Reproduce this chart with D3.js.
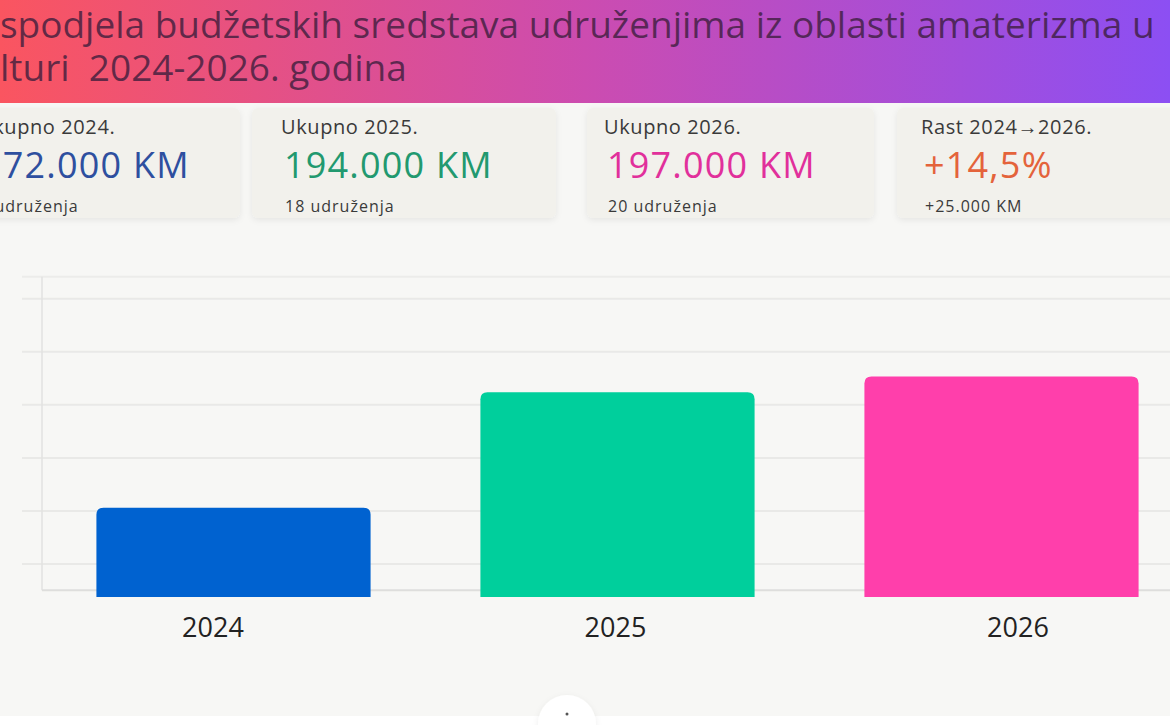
<!DOCTYPE html>
<html>
<head>
<meta charset="utf-8">
<script src="https://cdn.jsdelivr.net/npm/d3@7"></script>
<style>
  body { margin: 0; background: #f7f7f5; overflow: hidden; }
  svg { display: block; }
  text { font-family: "Open Sans", "Noto Sans", sans-serif; }
</style>
</head>
<body>
<div id="chart"></div>
<script>
// data
var years = ["2024", "2025", "2026"];
var totals = [172000, 194000, 197000];
var associations = [16, 18, 20];
var gridValues = [161300, 171400, 181500, 191600, 201700, 211800];
var titleLines = ["Raspodjela budžetskih sredstava udruženjima iz oblasti amaterizma u",
                  "kulturi  2024-2026. godina"];

var barColors = ["#0062d0", "#00cf9c", "#ff3fab"];
var valueColors = ["#2e4f9f", "#22996f", "#e1309b", "#e4633b"];

var W = 1170, H = 725;
var svg = d3.select("#chart").append("svg").attr("width", W).attr("height", H);
var defs = svg.append("defs");

// header gradient
var grad = defs.append("linearGradient").attr("id", "hdr").attr("x1", "0%").attr("x2", "100%");
grad.append("stop").attr("offset", "0%").attr("stop-color", "#fa5560");
grad.append("stop").attr("offset", "50%").attr("stop-color", "#cc4cb0");
grad.append("stop").attr("offset", "100%").attr("stop-color", "#8c4ff3");

var sh = defs.append("filter").attr("id", "soft").attr("x", "-20%").attr("y", "-20%").attr("width", "140%").attr("height", "160%");
sh.append("feDropShadow").attr("dx", 0).attr("dy", 2).attr("stdDeviation", 3)
  .attr("flood-color", "#000").attr("flood-opacity", 0.07);

svg.append("rect").attr("width", W).attr("height", H).attr("fill", "#f7f7f5");
svg.append("rect").attr("width", W).attr("height", 103).attr("fill", "url(#hdr)");

// title, clipped on the left like the picture
var title = svg.append("g");
var t1 = title.append("text").attr("y", 38).style("font-size", "30px").style("font-weight", 500)
  .attr("fill", "#3b1d3c").attr("fill-opacity", 0.78).text(titleLines[0]);
var full = t1.node().getComputedTextLength();
var pre = t1.node().getSubStringLength(0, 2);
var fs = 30 * 1155 / (full - pre);
t1.style("font-size", fs + "px");
t1.attr("x", -t1.node().getSubStringLength(0, 2));
var t2 = title.append("text").attr("y", 81).style("font-size", fs + "px").style("font-weight", 500)
  .style("white-space", "pre")
  .attr("fill", "#3b1d3c").attr("fill-opacity", 0.78).text(titleLines[1]);
t2.attr("x", -t2.node().getSubStringLength(0, 2));

// summary cards
var fmt = d3.formatLocale({decimal: ",", thousands: ".", grouping: [3], currency: ["", " KM"]});
var km = fmt.format(",.0f");
var growth = (totals[2] - totals[0]) / totals[0];
var cardLabels = years.map(function(y) { return "Ukupno " + y + "."; }).concat(["Rast " + years[0] + "→" + years[2] + "."]);
var cardValues = totals.map(function(v) { return km(v) + " KM"; }).concat(["+" + fmt.format(".1f")(growth * 100) + "%"]);
var cardSubs = associations.map(function(a) { return a + " udruženja"; }).concat(["+" + km(totals[2] - totals[0]) + " KM"]);

var cardBox = [[-30, 240], [252, 556], [587, 874], [897, 1190]];
var cardText = [-22, 281, 604, 921];
var subX = [-31, 285, 608, 925];
var cards = svg.selectAll("g.card").data(cardLabels).enter().append("g").attr("class", "card");
cards.append("rect")
  .attr("x", function(d, i) { return cardBox[i][0]; })
  .attr("width", function(d, i) { return cardBox[i][1] - cardBox[i][0]; })
  .attr("y", 108).attr("height", 110).attr("rx", 6)
  .attr("fill", "#f2f1ec").attr("filter", "url(#soft)");
cards.append("text")
  .attr("x", function(d, i) { return cardText[i]; }).attr("y", 134)
  .style("font-size", "20px").style("letter-spacing", "0.6px").attr("fill", "#3a3a3a")
  .text(function(d) { return d; });
cards.append("text")
  .attr("x", function(d, i) { return cardText[i] + 3; }).attr("y", 178)
  .style("font-size", "36px").style("font-weight", 500).style("letter-spacing", "1.2px")
  .attr("fill", function(d, i) { return valueColors[i]; })
  .text(function(d, i) { return cardValues[i]; });
cards.append("text")
  .attr("x", function(d, i) { return subX[i]; }).attr("y", 212)
  .style("font-size", "16px").style("font-weight", 500).style("letter-spacing", "1px").attr("fill", "#3a3a3a")
  .text(function(d, i) { return cardSubs[i]; });

// bar chart
var x = d3.scaleBand().domain(years).range([41.5, 1193.5]).paddingInner(0.286).paddingOuter(0.143);
var y = d3.scaleLinear().domain([155000, 216000]).range([597, 276.75]);
var labelX = d3.scalePoint().domain(years).range([213, 1018]);

var plot = svg.append("g");
plot.selectAll("line.grid").data(gridValues).enter().append("line")
  .attr("x1", 22).attr("x2", W)
  .attr("y1", function(d) { return y(d); }).attr("y2", function(d) { return y(d); })
  .attr("stroke", "#e9e9e7").attr("stroke-width", 2);
plot.append("line").attr("x1", 22).attr("x2", W).attr("y1", y(216000)).attr("y2", y(216000))
  .attr("stroke", "#ececea").attr("stroke-width", 2);
plot.append("line").attr("x1", 42).attr("x2", 42).attr("y1", y(216000)).attr("y2", y(156300))
  .attr("stroke", "#e2e2e0").attr("stroke-width", 1.5);
plot.append("line").attr("x1", 42).attr("x2", W).attr("y1", y(156300)).attr("y2", y(156300))
  .attr("stroke", "#dededc").attr("stroke-width", 2);

function topRounded(x0, y0, w, h, r) {
  return "M" + x0 + "," + (y0 + h) + "V" + (y0 + r) + "Q" + x0 + "," + y0 + " " + (x0 + r) + "," + y0 +
    "H" + (x0 + w - r) + "Q" + (x0 + w) + "," + y0 + " " + (x0 + w) + "," + (y0 + r) + "V" + (y0 + h) + "Z";
}
plot.selectAll("path.bar").data(years).enter().append("path").attr("class", "bar")
  .attr("d", function(d, i) {
    return topRounded(x(d), y(totals[i]), x.bandwidth(), y(155000) - y(totals[i]), 7);
  })
  .attr("fill", function(d, i) { return barColors[i]; });

plot.selectAll("text.xl").data(years).enter().append("text")
  .attr("x", function(d) { return labelX(d); }).attr("y", 637)
  .attr("text-anchor", "middle").style("font-size", "27px").attr("fill", "#222")
  .text(function(d) { return d; });

// bottom strip and round button
svg.append("rect").attr("y", 716).attr("width", W).attr("height", 9).attr("fill", "#ffffff");
svg.append("circle").attr("cx", 567).attr("cy", 724).attr("r", 29).attr("fill", "#ffffff").attr("filter", "url(#soft)");
svg.append("circle").attr("cx", 567).attr("cy", 714).attr("r", 1.5).attr("fill", "#555");
</script>
</body>
</html>
